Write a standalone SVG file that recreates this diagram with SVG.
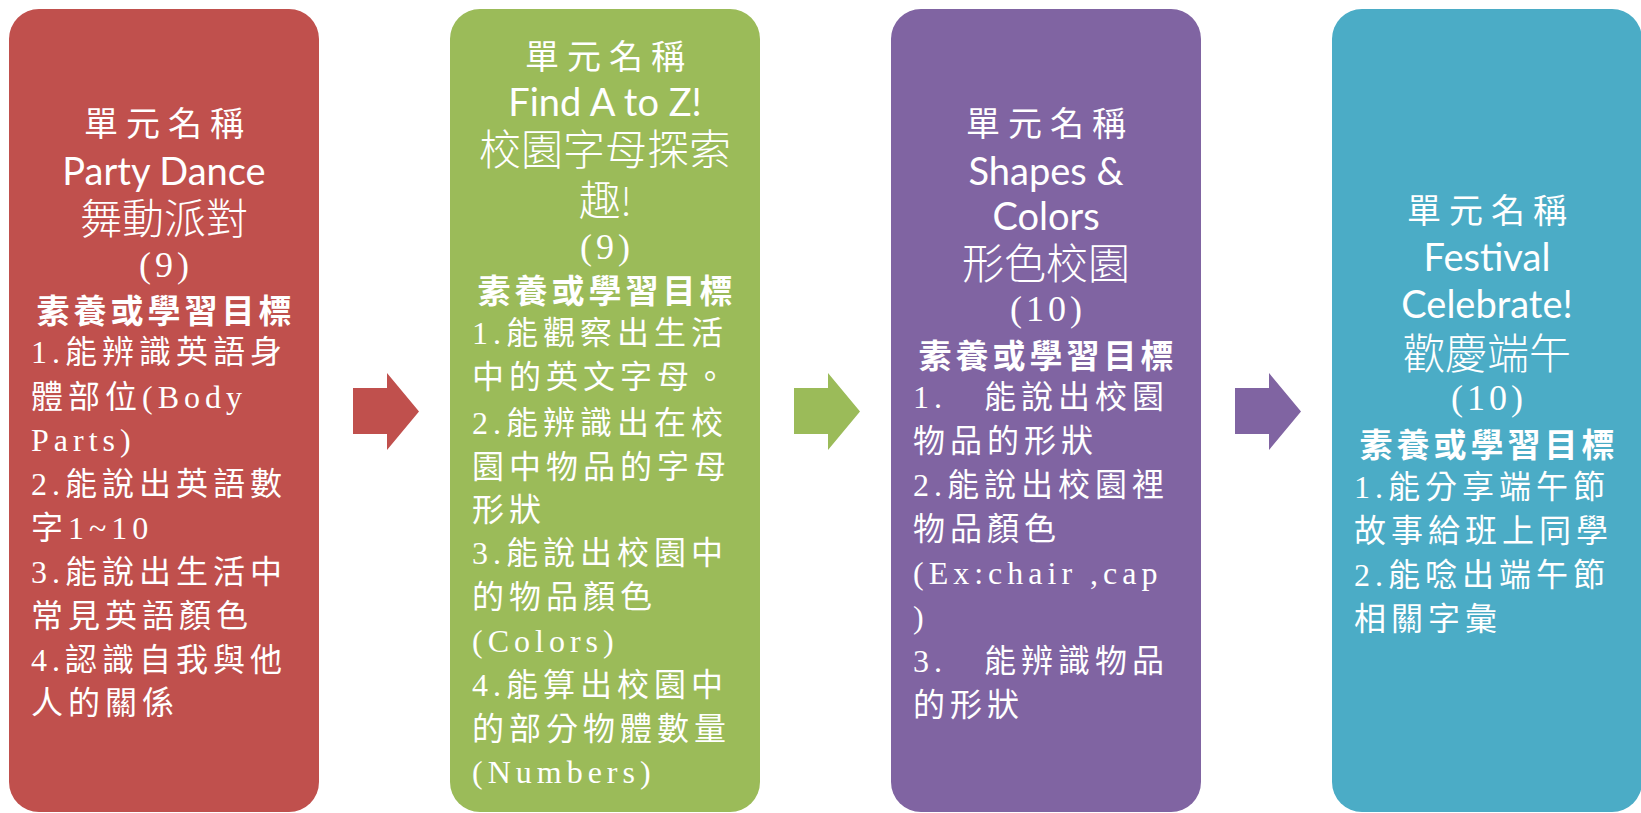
<svg xmlns="http://www.w3.org/2000/svg" width="1641" height="813" viewBox="0 0 1641 813">
<style>
  text { fill: #FFFFFF; dominant-baseline: central; }
  .lbl { font-family: "Noto Sans CJK TC", "Noto Sans CJK SC", sans-serif; font-size: 34px; letter-spacing: 8px; text-anchor: middle; }
  .en { font-family: Lato, "Noto Sans", sans-serif; font-size: 38px; text-anchor: middle; }
  .zh { font-family: Lato, "Noto Sans CJK TC", sans-serif; font-size: 42px; font-weight: 300; text-anchor: middle; }
  .num { font-family: "Liberation Serif", "Noto Sans CJK TC", serif; font-size: 36px; letter-spacing: 4px; text-anchor: middle; }
  .goal { font-family: "Noto Sans CJK TC", "Noto Sans CJK SC", sans-serif; font-size: 33px; font-weight: 700; letter-spacing: 4px; text-anchor: middle; }
  .obj { font-family: "Liberation Serif", "Noto Sans CJK TC", serif; font-size: 32px; letter-spacing: 5px; }
</style>
<defs>
  <path id="arrowShape" d="M0,15 H34 V0 L66,38.5 L34,77 V61 H0 Z"/>
</defs>
<g id="connectors">
  <use href="#arrowShape" x="353" y="373" fill="#C0504D"/>
  <use href="#arrowShape" x="794" y="373" fill="#9BBB59"/>
  <use href="#arrowShape" x="1235" y="373" fill="#8064A2"/>
</g>
<g id="unit1">
  <rect x="9" y="9" width="310" height="803" rx="30" ry="30" fill="#C0504D"/>
  <text class="lbl" x="168" y="121">單元名稱</text>
  <text class="en" x="164" y="170">Party Dance</text>
  <text class="zh" x="164" y="218">舞動派對</text>
  <text class="num" x="166" y="265">(9)</text>
  <text class="goal" x="166" y="309">素養或學習目標</text>
  <text class="obj" x="31" y="352">1.能辨識英語身</text>
  <text class="obj" x="31" y="397">體部位(Body</text>
  <text class="obj" x="31" y="440">Parts)</text>
  <text class="obj" x="31" y="484">2.能說出英語數</text>
  <text class="obj" x="31" y="528">字1~10</text>
  <text class="obj" x="31" y="572">3.能說出生活中</text>
  <text class="obj" x="31" y="616">常見英語顏色</text>
  <text class="obj" x="31" y="660">4.認識自我與他</text>
  <text class="obj" x="31" y="703">人的關係</text>
</g>
<g id="unit2">
  <rect x="450" y="9" width="310" height="803" rx="30" ry="30" fill="#9BBB59"/>
  <text class="lbl" x="609" y="54">單元名稱</text>
  <text class="en" x="605" y="101">Find A to Z!</text>
  <text class="zh" x="605" y="149">校園字母探索</text>
  <text class="zh" x="605" y="200">趣!</text>
  <text class="num" x="607" y="247">(9)</text>
  <text class="goal" x="607" y="289">素養或學習目標</text>
  <text class="obj" x="472" y="333">1.能觀察出生活</text>
  <text class="obj" x="472" y="377">中的英文字母。</text>
  <text class="obj" x="472" y="423">2.能辨識出在校</text>
  <text class="obj" x="472" y="467">園中物品的字母</text>
  <text class="obj" x="472" y="510">形狀</text>
  <text class="obj" x="472" y="553">3.能說出校園中</text>
  <text class="obj" x="472" y="597">的物品顏色</text>
  <text class="obj" x="472" y="641">(Colors)</text>
  <text class="obj" x="472" y="685">4.能算出校園中</text>
  <text class="obj" x="472" y="729">的部分物體數量</text>
  <text class="obj" x="472" y="772">(Numbers)</text>
</g>
<g id="unit3">
  <rect x="891" y="9" width="310" height="803" rx="30" ry="30" fill="#8064A2"/>
  <text class="lbl" x="1050" y="121">單元名稱</text>
  <text class="en" x="1046" y="170">Shapes &amp;</text>
  <text class="en" x="1046" y="215">Colors</text>
  <text class="zh" x="1046" y="263">形色校園</text>
  <text class="num" x="1048" y="309">(10)</text>
  <text class="goal" x="1048" y="354">素養或學習目標</text>
  <text class="obj" x="913" y="397">1.　能說出校園</text>
  <text class="obj" x="913" y="441">物品的形狀</text>
  <text class="obj" x="913" y="485">2.能說出校園裡</text>
  <text class="obj" x="913" y="529">物品顏色</text>
  <text class="obj" x="913" y="573">(Ex:chair ,cap</text>
  <text class="obj" x="913" y="617">)</text>
  <text class="obj" x="913" y="661">3.　能辨識物品</text>
  <text class="obj" x="913" y="705">的形狀</text>
</g>
<g id="unit4">
  <rect x="1332" y="9" width="310" height="803" rx="30" ry="30" fill="#4BACC6"/>
  <text class="lbl" x="1491" y="208">單元名稱</text>
  <text class="en" x="1487" y="256">Festival</text>
  <text class="en" x="1487" y="303">Celebrate!</text>
  <text class="zh" x="1487" y="353">歡慶端午</text>
  <text class="num" x="1489" y="398">(10)</text>
  <text class="goal" x="1489" y="443">素養或學習目標</text>
  <text class="obj" x="1354" y="487">1.能分享端午節</text>
  <text class="obj" x="1354" y="531">故事給班上同學</text>
  <text class="obj" x="1354" y="575">2.能唸出端午節</text>
  <text class="obj" x="1354" y="619">相關字彙</text>
</g>
</svg>
